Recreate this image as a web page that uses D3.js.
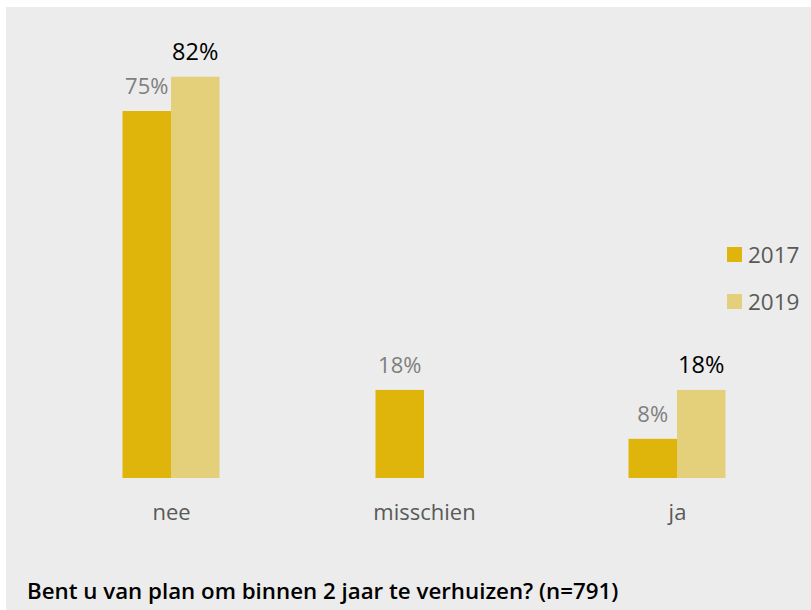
<!DOCTYPE html>
<html>
<head>
<meta charset="utf-8">
<script src="https://cdn.jsdelivr.net/npm/d3@7"></script>
<style>
  body { margin: 0; background: #fff; }
  text { font-family: "Open Sans", "Noto Sans", sans-serif; }
</style>
</head>
<body>
<div id="chart"></div>
<script>
// data
const categories = ['nee', 'misschien', 'ja'];
const years = ['2017', '2019'];
const values2017 = [75, 18, 8];
const values2019 = [82, null, 18];
const title = 'Bent u van plan om binnen 2 jaar te verhuizen? (n=791)';

const colors = { '2017': '#dfb40b', '2019': '#e4d07b' };

const width = 811;
const height = 610;

const svg = d3.select('#chart')
  .append('svg')
  .attr('width', width)
  .attr('height', height);

// grey panel
svg.append('rect')
  .attr('x', 6)
  .attr('y', 7)
  .attr('width', width - 6)
  .attr('height', height - 7)
  .attr('fill', '#ececec');

// scales
const x0 = d3.scalePoint()
  .domain(categories)
  .range([171, 677]);

const x1 = d3.scaleBand()
  .domain(years)
  .range([-48.5, 48.5]);

const y = d3.scaleLinear()
  .domain([0, 75])
  .range([478, 111]);

const rows = [];
categories.forEach((c, i) => {
  rows.push({ cat: c, year: '2017', value: values2017[i] });
  rows.push({ cat: c, year: '2019', value: values2019[i] });
});
const data = rows.filter((d) => d.value !== null);

// bars
svg.selectAll('.bar')
  .data(data)
  .enter()
  .append('rect')
  .attr('class', 'bar')
  .attr('x', (d) => x0(d.cat) + x1(d.year))
  .attr('y', (d) => y(d.value))
  .attr('width', x1.bandwidth())
  .attr('height', (d) => y(0) - y(d.value))
  .attr('fill', (d) => colors[d.year]);

// value labels
svg.selectAll('.val')
  .data(data)
  .enter()
  .append('text')
  .attr('class', 'val')
  .attr('x', (d) => x0(d.cat) + x1(d.year) + x1.bandwidth() / 2)
  .attr('y', (d) => y(d.value) - 17)
  .attr('text-anchor', 'middle')
  .style('font-size', (d) => (d.year === '2017' ? '22px' : '23.5px'))
  .attr('fill', (d) => (d.year === '2017' ? '#7f7f7f' : '#000'))
  .text((d) => `${d.value}%`);

// category axis
const axis = svg.append('g')
  .attr('transform', `translate(0,${y(0)})`)
  .call(d3.axisBottom(x0).tickSize(0));
axis.select('.domain').remove();
axis.selectAll('text')
  .attr('y', 42)
  .attr('dy', 0)
  .style('font-size', '22px')
  .style('font-family', '"Open Sans", sans-serif')
  .attr('fill', '#595959');

// legend
const legend = svg.append('g')
  .attr('transform', 'translate(727,247)');
const item = legend.selectAll('g')
  .data(years)
  .enter()
  .append('g')
  .attr('transform', (d, i) => `translate(0,${i * 47})`);
item.append('rect')
  .attr('width', 15)
  .attr('height', 15)
  .attr('fill', (d) => colors[d]);
item.append('text')
  .attr('x', 21)
  .attr('y', 16)
  .style('font-size', '22.5px')
  .attr('fill', '#595959')
  .text((d) => d);

// title
svg.append('text')
  .attr('x', 27)
  .attr('y', 599)
  .style('font-size', '22.3px')
  .style('font-weight', 600)
  .attr('fill', '#000')
  .text(title);
</script>
</body>
</html>
